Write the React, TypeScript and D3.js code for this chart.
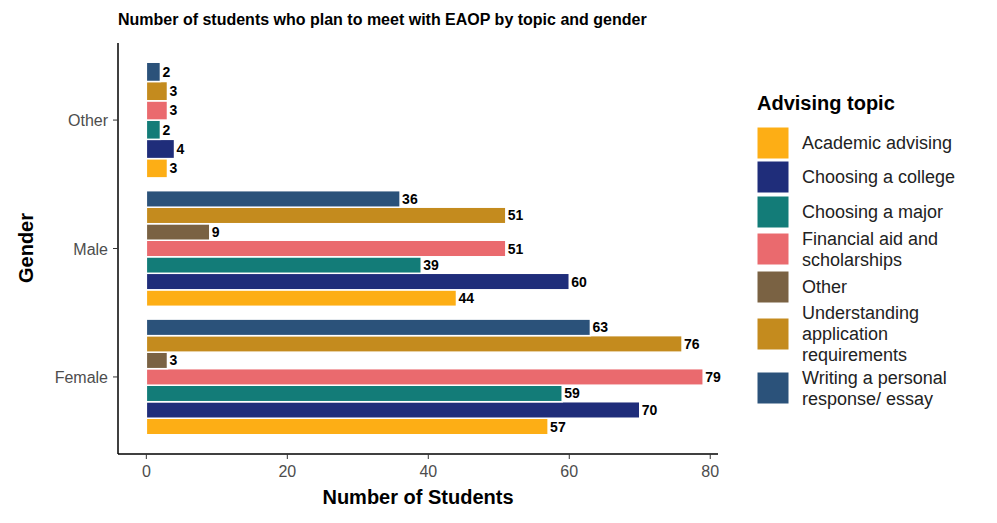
import React from "react";
import * as d3 from "d3";

const genders = ["Female", "Male", "Other"];
const topics = ["Academic advising", "Choosing a college", "Choosing a major", "Financial aid and scholarships", "Other", "Understanding application requirements", "Writing a personal response/ essay"];
const legendLabels = [["Academic advising"], ["Choosing a college"], ["Choosing a major"], ["Financial aid and", "scholarships"], ["Other"], ["Understanding", "application", "requirements"], ["Writing a personal", "response/ essay"]];
const colors = ["#FDAE15", "#1F2D7A", "#137C78", "#EA6A6E", "#7A6243", "#C48B1E", "#2B527A"];
const female = [57, 70, 59, 79, 3, 76, 63];
const male = [44, 60, 39, 51, 9, 51, 36];
const other: (number | null)[] = [3, 4, 2, 3, null, 3, 2];
const xTicks = [0, 20, 40, 60, 80];

export default function App() {
  const x = d3.scaleLinear().domain([-4.02, 81.1]).range([118, 718]);
  const y = d3.scaleLinear().domain([-0.6, 2.6]).range([454, 43]);
  const unit = 128.5;
  const series = [female, male, other];
  const bars: any[] = [];
  series.forEach((vals, gi) => {
    const present = vals.map((v, k) => ({ v, k })).filter((d) => d.v !== null);
    const n = present.length;
    const w = 0.9 / n;
    present.forEach((d, j) => {
      const cy = y(gi) + (0.45 - (j + 0.5) * w) * unit;
      bars.push({ key: `${gi}-${d.k}`, v: d.v, color: colors[d.k], cy, h: w * unit });
    });
  });
  const legendY = [143, 177, 212, 249, 287, 334, 388];
  const legendH = [34, 34, 34, 40, 34, 58, 40];
  return (
    <svg width={997} height={523} style={{ display: "block", position: "absolute", left: 0, top: 0, fontFamily: "Liberation Sans, Arial, sans-serif" }}>
      <rect width={997} height={523} fill="white" />
      <text x={118} y={25} fontSize={16} fontWeight="bold">Number of students who plan to meet with EAOP by topic and gender</text>
      {bars.map((b) => (
        <g key={b.key}>
          <rect x={x(0)} y={b.cy - b.h / 2} width={x(b.v) - x(0)} height={b.h} fill={b.color} stroke="white" strokeWidth={1.5} />
          <text x={x(b.v) + 2} y={b.cy + 5} fontSize={14} fontWeight="bold">{b.v}</text>
        </g>
      ))}
      <line x1={118} x2={118} y1={43} y2={454} stroke="black" strokeWidth={1.5} />
      <line x1={118} x2={718} y1={454} y2={454} stroke="black" strokeWidth={1.5} />
      {xTicks.map((t) => (
        <g key={t}>
          <line x1={x(t)} x2={x(t)} y1={454} y2={459} stroke="#333" />
          <text x={x(t)} y={477} textAnchor="middle" fontSize={16} fill="#4d4d4d">{t}</text>
        </g>
      ))}
      {genders.map((g, i) => (
        <g key={g}>
          <line x1={113} x2={118} y1={y(i)} y2={y(i)} stroke="#333" />
          <text x={108} y={y(i) + 6} textAnchor="end" fontSize={16} fill="#4d4d4d">{g}</text>
        </g>
      ))}
      <text x={418} y={504} textAnchor="middle" fontSize={20} fontWeight="bold">Number of Students</text>
      <text transform="translate(33,248) rotate(-90)" textAnchor="middle" fontSize={20} fontWeight="bold">Gender</text>
      <text x={757} y={110} fontSize={20} fontWeight="bold">Advising topic</text>
      {topics.map((t, i) => (
        <g key={t}>
          <rect x={757} y={legendY[i] - 16} width={32} height={32} fill={colors[i]} stroke="white" />
          {legendLabels[i].map((l, j) => (
            <text key={j} x={802} y={legendY[i] + 6 + (j - (legendLabels[i].length - 1) / 2) * 21} fontSize={18} fill="#222">{l}</text>
          ))}
        </g>
      ))}
    </svg>
  );
}
